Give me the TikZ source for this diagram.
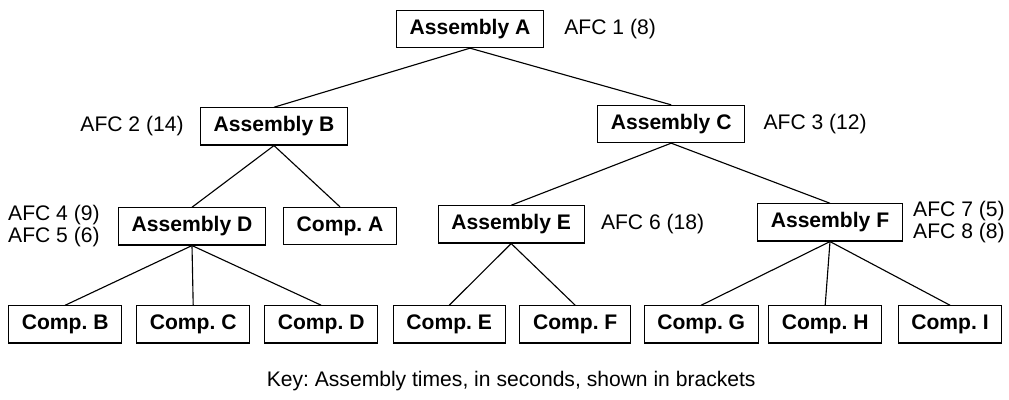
\documentclass[tikz,border=0pt]{standalone}
\usepackage{fontspec}
\setmainfont{Liberation Sans}
\usetikzlibrary{positioning}
\frenchspacing

\begin{document}
\begin{tikzpicture}[every node/.style={font=\fontsize{15}{15.6}\selectfont},
    part/.style={draw, line width=0.8pt, minimum height=0.93cm, inner xsep=0.33cm,
      font=\fontsize{15}{15.6}\selectfont\bfseries},
    afc/.style={inner sep=0pt, align=left},
    link/.style={line width=0.8pt}]
    \useasboundingbox (0,0) rectangle (25.225,-9.975);
    % assemblies
    \node[part] (A) at (11.75,-0.725) {Assembly A};
    \node[part] (B) at (6.85,-3.16) {Assembly B};
    \node[part] (C) at (16.78,-3.1) {Assembly C};
    \node[part] (D) at (4.8,-5.66) {Assembly D};
    \node[part] (cA) at (8.5,-5.65) {Comp. A};
    \node[part] (E) at (12.78,-5.61) {Assembly E};
    \node[part] (F) at (20.75,-5.56) {Assembly F};
    % components
    \foreach \n/\x in {B/1.63, C/4.83, D/8.03, E/11.23, F/14.38, G/17.53, H/20.63, I/23.75} {
      \node[part] (c\n) at (\x,-8.11) {Comp. \n};
    }
    % assembly times
    \node[afc, right=0.5cm of A] (afcA) {AFC 1 (8)};
    \node[afc, left=0.4cm of B] (afcB) {AFC 2 (14)};
    \node[afc, right=0.45cm of C] (afcC) {AFC 3 (12)};
    \node[afc, left=0.45cm of D] (afcD) {AFC 4 (9)\\AFC 5 (6)};
    \node[afc, right=0.4cm of E] (afcE) {AFC 6 (18)};
    \node[afc, right=0.25cm of F] (afcF) {AFC 7 (5)\\AFC 8 (8)};
    \foreach \p/\c in {A/B, A/C, B/D, B/cA, C/E, C/F, D/cB, D/cC, D/cD, E/cE, E/cF, F/cG, F/cH, F/cI} {
      \draw[link] (\p.south) -- (\c.north);
    }
    \node (key) at (12.78,-9.52) {Key: Assembly times, in seconds, shown in brackets};
  \end{tikzpicture}
\end{document}
